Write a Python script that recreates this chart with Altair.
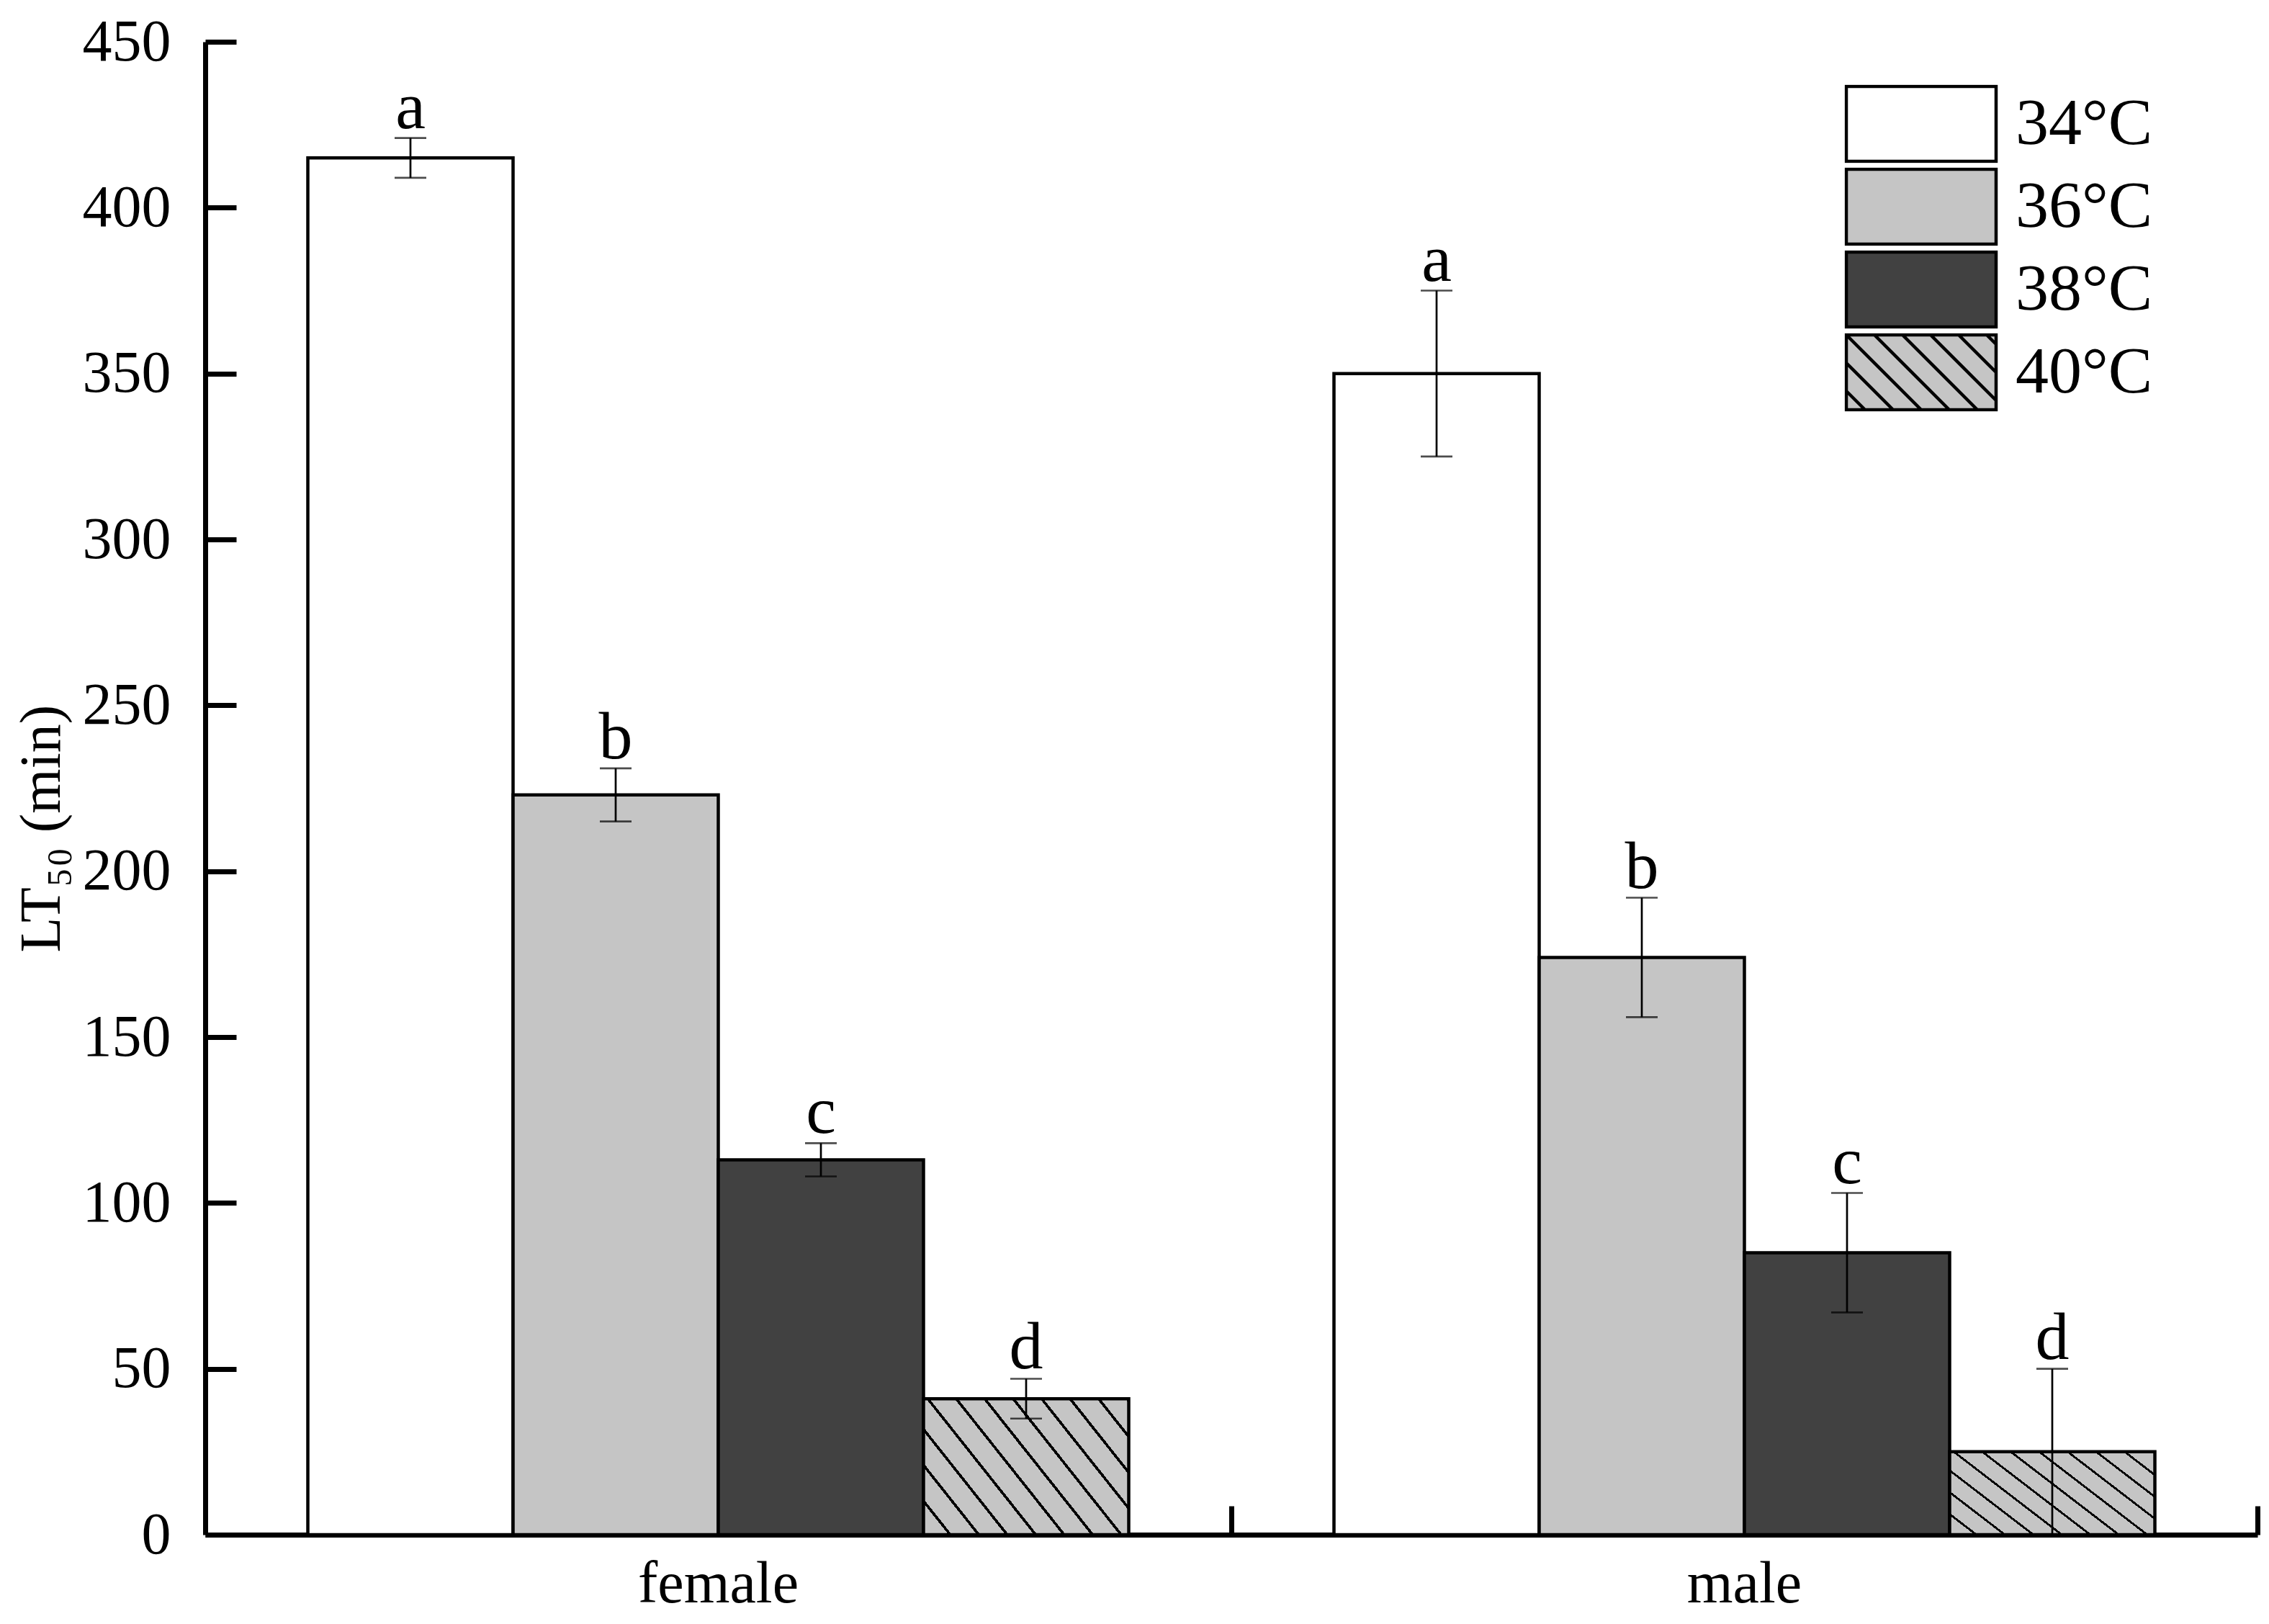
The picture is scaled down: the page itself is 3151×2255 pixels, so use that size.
import altair as alt
import pandas as pd

# ---------------- data ----------------
sexes = ["female", "male"]
temps = ["34°C", "36°C", "38°C", "40°C"]
female_lt50 = [415, 223, 113, 41]
female_err = [6, 8, 5, 6]
male_lt50 = [350, 174, 85, 25]
male_err = [25, 18, 18, 25]
female_letters = ["a", "b", "c", "d"]
male_letters = ["a", "b", "c", "d"]
y_ticks = [0, 50, 100, 150, 200, 250, 300, 350, 400, 450]

rows = []
for sex, means, errs, lets in [
    ("female", female_lt50, female_err, female_letters),
    ("male", male_lt50, male_err, male_letters),
]:
    for t, m, e, l in zip(temps, means, errs, lets):
        rows.append({"sex": sex, "temp": t, "mean": m, "lo": m - e, "hi": m + e, "letter": l})
df = pd.DataFrame(rows)

# ---------------- styles ----------------
FONT = "Liberation Serif"
W, H = 2850, 2073
fills = ["#ffffff", "#c5c5c5", "#414141", "#c5c5c5"]
strokes = ["#000000", "#000000", "#000000", "#000000"]
GRAY = "#c5c5c5"

# diagonal hatch as a linear gradient with hard stops (bars of 40°C)
N_STRIPES = 11
LINE_FRAC = 0.12
stops = []
for i in range(N_STRIPES):
    a = i / N_STRIPES
    b = (i + 1) / N_STRIPES
    m = b - LINE_FRAC / N_STRIPES
    stops += [
        {"offset": round(a, 4), "color": GRAY},
        {"offset": round(m, 4), "color": GRAY},
        {"offset": round(m, 4), "color": "#000000"},
        {"offset": round(b, 4), "color": "#000000"},
    ]
hatch_grad = {"gradient": "linear", "x1": 0, "y1": 1, "x2": 1.195, "y2": 0.371, "stops": stops}

# legend symbol shapes: wide rectangles, the last one hatched
rect_path = "M-2,-1H2V1H-2Z"
hatch_parts = [rect_path]
spacing = 0.75
for k in range(-6, 12):
    c = -1 + k * spacing
    x_lo = max(-2.0, c - 1)
    x_hi = min(2.0, c + 1)
    if x_hi - x_lo > 0.08:
        hatch_parts.append(f"M{x_lo:.3f},{x_lo - c:.3f}L{x_hi:.3f},{x_hi - c:.3f}")
hatch_path = "".join(hatch_parts)
shapes = [rect_path, rect_path, rect_path, hatch_path]

legend_def = dict(orient="none", legendX=2276.5, legendY=59.5, title=None)

x_main = alt.X(
    "sex:N",
    sort=sexes,
    scale=alt.Scale(domain=sexes, paddingInner=0.2, paddingOuter=0.1),
    axis=alt.Axis(
        title=None, labelAngle=0, ticks=False, tickSize=0, domain=True,
        domainColor="black", domainWidth=7, labelFont=FONT, labelFontSize=82,
        labelColor="black", labelBaseline="alphabetic", labelPadding=93,
        labelLimit=1000, grid=False,
    ),
)
x_ticks_only = alt.X(
    "sex:N",
    sort=sexes,
    axis=alt.Axis(
        orient="top", offset=-H, title=None, labels=False, domain=False,
        ticks=True, tickSize=40, tickWidth=7, tickColor="black",
        bandPosition=1.125, grid=False,
    ),
)
x_plain = alt.X("sex:N", sort=sexes, axis=None)
xoff = alt.XOffset("temp:N", sort=temps, scale=alt.Scale(domain=temps, paddingInner=0, paddingOuter=0))

yscale = alt.Scale(domain=[0, 450], nice=False, zero=True)

fill_enc = alt.Fill("temp:N", sort=temps, scale=alt.Scale(domain=temps, range=fills), legend=alt.Legend(**legend_def))
stroke_enc = alt.Stroke("temp:N", sort=temps, scale=alt.Scale(domain=temps, range=strokes), legend=alt.Legend(**legend_def))

bars = alt.Chart(df).mark_bar(strokeWidth=4.5).encode(
    x=x_main,
    xOffset=xoff,
    y=alt.Y(
        "mean:Q",
        scale=yscale,
        axis=alt.Axis(
            values=y_ticks, title="LT₅₀ (min)", ticks=False, tickSize=0,
            domain=True, domainColor="black", domainWidth=7, grid=False,
            labelFont=FONT, labelFontSize=82, labelColor="black", labelPadding=48,
            titleFont=FONT, titleFontSize=80, titleFontWeight="normal", titleColor="black",
            titleX=-203, titleY=1092, titleAngle=270, titleBaseline="alphabetic", titleAlign="center",
        ),
    ),
    fill=alt.condition(alt.datum.temp == "40°C", alt.value(hatch_grad), fill_enc),
    stroke=stroke_enc,
)

rules = alt.Chart(df).mark_rule(color="black", strokeWidth=2.7).encode(
    x=x_ticks_only,
    xOffset=xoff,
    y=alt.Y(
        "lo:Q",
        scale=yscale,
        axis=alt.Axis(
            orient="right", offset=-W, values=y_ticks, title=None, labels=False,
            domain=False, ticks=True, tickSize=43, tickWidth=7, tickColor="black", grid=False,
        ),
    ),
    y2="hi:Q",
)

caps = alt.Chart(df).transform_fold(["lo", "hi"], as_=["end", "val"]).mark_tick(
    color="black", thickness=2.7, size=44
).encode(
    x=x_plain,
    xOffset=xoff,
    y=alt.Y("val:Q", scale=yscale, axis=None),
)

letters = alt.Chart(df).mark_text(
    font=FONT, fontSize=94, color="black", baseline="alphabetic", align="center", dy=-14
).encode(
    x=x_plain,
    xOffset=xoff,
    y=alt.Y("hi:Q", scale=yscale, axis=None),
    text="letter:N",
)

legend_pts = alt.Chart(df).transform_filter("false").mark_point(
    filled=True, opacity=1, strokeWidth=4.5
).encode(
    shape=alt.Shape("temp:N", sort=temps, scale=alt.Scale(domain=temps, range=shapes), legend=alt.Legend(**legend_def)),
    fill=fill_enc,
    stroke=stroke_enc,
)

chart = (
    alt.layer(bars, rules, caps, letters, legend_pts)
    .resolve_scale(y="shared", x="shared")
    .resolve_axis(y="independent", x="independent")
    .properties(
        width=W,
        height=H,
        autosize=alt.AutoSizeParams(type="none"),
        padding={"left": 277, "top": 50, "right": 6, "bottom": 111},
        background="white",
    )
    .configure_view(strokeWidth=0)
    .configure_legend(
        padding=0,
        symbolSize=10816,
        symbolStrokeColor="black",
        symbolBaseStrokeColor="black",
        symbolStrokeWidth=4.5,
        symbolOffset=52,
        labelOffset=76.5,
        labelFont=FONT,
        labelFontSize=92,
        labelColor="black",
        labelLimit=600,
        clipHeight=109,
        rowPadding=6,
        symbolOpacity=1,
    )
)

chart.save("out.html", embed_options={"renderer": "svg", "actions": False})
